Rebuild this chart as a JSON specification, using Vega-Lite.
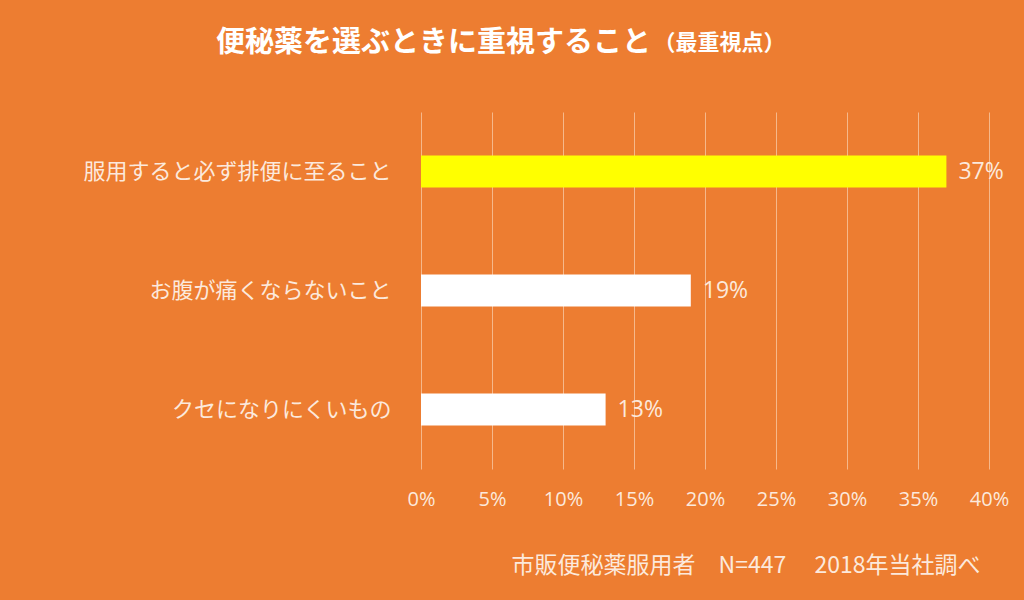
{
  "$schema": "https://vega.github.io/schema/vega-lite/v6.json",
  "width": 568,
  "height": 357,
  "autosize": {"type": "none"},
  "padding": {"left": 421, "top": 112, "right": 35, "bottom": 131},
  "background": "#ED7D31",
  "title": {
    "text": "便秘薬を選ぶときに重視すること",
    "font": "Noto Sans CJK JP",
    "fontSize": 29,
    "fontWeight": "bold",
    "color": "#FFFFFF",
    "anchor": "start",
    "frame": "group",
    "dx": -205,
    "offset": -27
  },
  "config": {
    "view": {"stroke": null},
    "font": "Noto Sans CJK JP"
  },
  "data": {
    "values": [
      {"item": "服用すると必ず排便に至ること", "value": 37, "label": "37%"},
      {"item": "お腹が痛くならないこと", "value": 19, "label": "19%"},
      {"item": "クセになりにくいもの", "value": 13, "label": "13%"}
    ]
  },
  "layer": [
    {
      "mark": {"type": "bar"},
      "encoding": {
        "y": {
          "field": "item",
          "type": "nominal",
          "sort": null,
          "scale": {"paddingInner": 0.73, "paddingOuter": 0.365},
          "axis": {
            "title": "（最重視点）",
            "titleAngle": 0,
            "titleX": 232,
            "titleY": -70,
            "titleAlign": "left",
            "titleBaseline": "middle",
            "titleFont": "Noto Sans CJK JP",
            "titleFontSize": 22,
            "titleFontWeight": "bold",
            "titleColor": "#FFFFFF",
            "domain": false,
            "ticks": false,
            "labelPadding": 30,
            "labelFontSize": 22,
            "labelColor": "#FCE9DC",
            "labelFont": "Noto Sans CJK JP",
            "labelLimit": 450
          }
        },
        "x": {
          "field": "value",
          "type": "quantitative",
          "scale": {"domain": [0, 40], "nice": false},
          "axis": {
            "values": [0, 5, 10, 15, 20, 25, 30, 35, 40],
            "labelExpr": "datum.value + '%'",
            "labelFlush": false,
            "grid": true,
            "gridColor": "#F6B88A",
            "gridWidth": 1,
            "domain": false,
            "ticks": false,
            "labelPadding": 20,
            "labelFontSize": 20,
            "labelColor": "#FCE9DC",
            "labelFont": "Open Sans",
            "title": "市販便秘薬服用者　N=447　 2018年当社調べ",
            "titleFont": "Noto Sans CJK JP",
            "titleFontSize": 23,
            "titleFontWeight": "normal",
            "titleColor": "#FCE9DC",
            "titleAnchor": "end",
            "titleAlign": "right",
            "titleX": 559,
            "titlePadding": 45
          }
        },
        "color": {
          "condition": {"test": "datum.item === '服用すると必ず排便に至ること'", "value": "#FFFF00"},
          "value": "#FFFFFF"
        }
      }
    },
    {
      "mark": {"type": "text", "align": "left", "dx": 12, "fontSize": 23, "font": "Open Sans", "color": "#FCE9DC"},
      "encoding": {
        "y": {"field": "item", "type": "nominal", "sort": null},
        "x": {"field": "value", "type": "quantitative"},
        "text": {"field": "label", "type": "nominal"}
      }
    }
  ]
}
